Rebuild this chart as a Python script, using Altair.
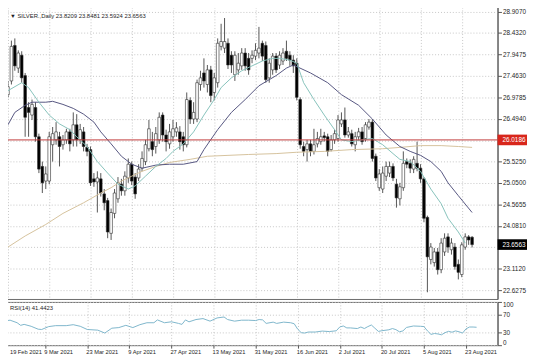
import altair as alt
import pandas as pd

# ---------------- data ----------------
opens = [27.04, 27.35, 28.15, 27.64, 27.93, 27.47, 26.75, 26.58, 26.75, 26.09,
         25.42, 25.09, 25.09, 25.91, 26.02, 26.09, 25.91, 26.02, 26.20, 26.02,
         26.36, 26.02, 26.20, 25.85, 25.80, 25.14, 25.07, 25.14, 24.80, 24.65,
         23.91, 24.36, 24.69, 25.02, 24.87, 25.16, 25.47, 25.18, 25.16, 25.38,
         25.53, 25.82, 25.98, 25.87, 26.02, 26.58, 26.13, 25.93, 26.09, 26.20,
         26.20, 26.09, 25.91, 26.91, 26.49, 26.49, 27.27, 27.53, 27.27, 27.60,
         27.09, 27.31, 28.13, 28.09, 28.20, 27.93, 27.49, 27.60, 27.69, 27.98,
         27.86, 27.86, 27.91, 27.98, 28.20, 28.15, 27.42, 27.60, 27.91, 27.71,
         27.80, 28.02, 27.93, 27.82, 27.75, 26.93, 25.87, 25.80, 25.93, 25.76,
         25.93, 25.98, 26.11, 26.09, 25.80, 26.02, 26.05, 26.38, 26.47, 26.13,
         26.16, 25.91, 26.09, 26.20, 26.05, 26.31, 26.42, 25.65, 24.94, 24.91,
         25.20, 25.27, 25.42, 25.02, 24.69, 24.94, 25.53, 25.49, 25.36, 25.49,
         25.38, 25.14, 24.27, 23.32, 23.25, 23.49, 23.09, 23.49, 23.83, 23.54,
         23.60, 23.21, 22.98, 23.60, 23.83, 23.8209]
highs = [27.35, 28.26, 28.31, 28.04, 28.02, 27.53, 26.87, 26.93, 26.87, 26.16,
         25.53, 25.42, 26.20, 26.31, 26.42, 26.20, 26.13, 26.27, 26.27, 26.64,
         26.60, 26.38, 26.31, 25.93, 25.87, 25.27, 25.31, 25.27, 24.91, 24.71,
         24.47, 24.91, 25.18, 25.14, 25.31, 25.60, 25.53, 25.27, 25.47, 25.76,
         26.02, 26.47, 26.20, 26.31, 26.64, 26.64, 26.25, 26.38, 26.47, 26.42,
         26.33, 26.20, 27.09, 26.98, 26.87, 27.38, 27.58, 27.86, 27.71, 27.69,
         27.53, 28.31, 28.64, 28.77, 28.31, 28.02, 28.02, 27.98, 28.09, 28.09,
         27.98, 28.04, 28.20, 28.57, 28.26, 28.24, 27.86, 27.98, 27.98, 28.02,
         28.09, 28.26, 28.02, 27.93, 27.86, 26.98, 25.98, 26.02, 26.02, 26.27,
         26.20, 26.27, 26.20, 26.16, 26.13, 26.25, 26.58, 26.64, 26.75, 26.31,
         26.25, 26.20, 26.29, 26.31, 26.42, 26.49, 26.49, 25.71, 25.36, 25.42,
         25.53, 25.53, 25.49, 25.14, 25.05, 25.76, 25.60, 25.58, 25.65, 25.98,
         25.47, 25.18, 24.31, 23.69, 23.58, 23.58, 23.80, 23.91, 23.91, 23.80,
         23.69, 23.32, 23.71, 23.91, 23.87, 23.8481]
lows = [26.98, 27.27, 27.58, 27.53, 27.31, 26.09, 26.09, 26.47, 25.98, 25.27,
        24.82, 24.91, 25.02, 25.53, 25.91, 25.42, 25.80, 25.93, 25.76, 25.87,
        25.87, 25.93, 25.76, 25.65, 24.98, 24.96, 24.38, 24.74, 24.43, 23.80,
        23.76, 24.25, 24.60, 24.76, 24.76, 25.05, 25.00, 24.69, 25.09, 25.31,
        25.45, 25.76, 25.65, 25.71, 25.93, 25.98, 25.76, 25.82, 25.98, 26.09,
        25.80, 25.76, 25.85, 26.38, 26.38, 26.42, 27.13, 27.20, 27.09, 26.87,
        26.91, 27.20, 28.04, 27.98, 27.62, 27.53, 27.35, 27.49, 27.60, 27.58,
        27.49, 27.75, 27.82, 27.86, 27.80, 27.31, 27.31, 27.49, 27.53, 27.62,
        27.71, 27.80, 27.69, 27.53, 26.91, 25.82, 25.65, 25.53, 25.65, 25.69,
        25.85, 25.91, 25.98, 25.65, 25.76, 25.93, 25.98, 26.31, 26.07, 26.07,
        25.87, 25.76, 26.02, 25.91, 25.98, 26.25, 25.53, 25.09, 24.87, 24.82,
        25.09, 25.18, 25.09, 24.49, 24.54, 24.87, 25.38, 25.27, 25.27, 25.31,
        25.05, 24.16, 22.58, 23.21, 23.16, 22.98, 23.01, 23.40, 23.47, 23.43,
        23.09, 22.87, 22.92, 23.54, 23.65, 23.5924]
closes = [27.22, 28.13, 27.69, 27.98, 27.42, 26.53, 26.64, 26.82, 26.09, 25.36,
          25.05, 25.25, 26.09, 26.16, 26.20, 25.87, 26.02, 26.20, 25.93, 26.36,
          26.02, 26.25, 25.87, 25.76, 25.05, 25.07, 25.16, 24.82, 24.60, 23.94,
          24.38, 24.82, 25.05, 24.87, 25.20, 25.47, 25.09, 24.80, 25.36, 25.60,
          25.91, 26.27, 25.80, 26.16, 26.53, 26.13, 25.98, 26.20, 26.27, 26.29,
          25.98, 25.91, 26.93, 26.49, 26.64, 27.31, 27.42, 27.35, 27.60, 27.02,
          27.42, 28.20, 28.24, 28.24, 27.71, 27.71, 27.93, 27.75, 27.98, 27.69,
          27.60, 27.93, 28.04, 28.09, 27.91, 27.38, 27.75, 27.91, 27.60, 27.93,
          27.98, 27.86, 27.82, 27.69, 26.98, 25.91, 25.76, 25.93, 25.76, 25.91,
          26.05, 26.09, 26.07, 25.76, 26.02, 26.16, 26.47, 26.47, 26.13, 26.20,
          25.93, 26.09, 26.20, 25.98, 26.36, 26.42, 25.60, 25.16, 25.25, 25.27,
          25.42, 25.42, 25.16, 24.71, 24.96, 25.49, 25.47, 25.38, 25.58, 25.38,
          25.14, 24.25, 23.38, 23.60, 23.49, 23.09, 23.69, 23.80, 23.60, 23.69,
          23.16, 23.03, 23.65, 23.83, 23.76, 23.6563]

fast_ma_bar = [0, 4, 6, 9, 12, 15, 18, 20, 23, 26, 29, 32, 35, 37, 40, 43, 46, 48, 51, 54,
               57, 60, 62, 65, 68, 71, 74, 77, 79, 82, 84, 86, 89, 92, 95, 97, 100, 103, 106, 109,
               112, 114, 117, 120, 123, 126, 128, 131, 133]
fast_ma = [27.13, 27.31, 27.20, 26.87, 26.58, 26.38, 26.25, 26.09, 25.87, 25.53,
           25.27, 25.02, 24.91, 24.98, 25.20, 25.42, 25.60, 25.76, 25.93, 26.20,
           26.58, 26.93, 27.20, 27.42, 27.58, 27.69, 27.80, 27.86, 27.86, 27.82,
           27.75, 27.31, 26.93, 26.58, 26.25, 26.02, 25.98, 26.02, 26.05, 25.91,
           25.71, 25.58, 25.53, 25.31, 24.91, 24.58, 24.25, 23.94, 23.69]

slow_ma_bar = [0, 2, 5, 7, 11, 13, 16, 19, 22, 25, 27, 30, 33, 36, 39, 43, 47, 51, 55, 57,
               61, 65, 69, 73, 78, 81, 83, 88, 93, 97, 102, 106, 110, 114, 117, 120, 123, 126, 128, 131,
               135]
slow_ma = [26.36, 26.64, 26.80, 26.87, 26.87, 26.89, 26.82, 26.73, 26.60, 26.42,
           26.20, 25.93, 25.65, 25.47, 25.38, 25.45, 25.47, 25.47, 25.53, 25.80,
           26.25, 26.64, 26.93, 27.24, 27.47, 27.64, 27.71, 27.53, 27.31, 27.04,
           26.80, 26.49, 26.13, 25.87, 25.76, 25.67, 25.53, 25.31, 25.05, 24.76,
           24.38]

long_ma_bar = [0, 5, 11, 16, 22, 27, 30, 33, 36, 39, 43, 47, 53, 58, 64, 70, 78, 84, 92, 100,
               109, 114, 120, 126, 131, 135]
long_ma = [23.60, 23.85, 24.11, 24.36, 24.60, 24.82, 24.94, 25.09, 25.20, 25.31,
           25.42, 25.51, 25.58, 25.65, 25.67, 25.69, 25.71, 25.74, 25.76, 25.80,
           25.82, 25.85, 25.89, 25.89, 25.87, 25.85]

rsi_bar = [0, 2, 4, 5, 6, 8, 10, 11, 13, 15, 18, 20, 22, 24, 27, 29, 31, 33, 35, 37,
           39, 41, 43, 44, 46, 48, 50, 51, 52, 53, 55, 57, 59, 61, 63, 64, 66, 68, 70, 72,
           73, 74, 75, 77, 78, 80, 82, 83, 84, 85, 86, 87, 89, 91, 93, 95, 96, 97, 98, 99,
           101, 102, 103, 104, 105, 106, 107, 108, 110, 111, 112, 113, 114, 115, 117, 119, 120, 121, 122, 123,
           124, 125, 126, 127, 128, 129, 130, 131, 132, 133, 134, 135]
rsi_val = [55.6, 57.8, 51.9, 45.9, 48.1, 43.7, 37.0, 36.3, 43.0, 45.2,
           45.2, 47.4, 43.7, 36.3, 34.8, 28.1, 39.3, 40.7, 45.9, 40.7,
           47.4, 51.9, 51.9, 58.5, 51.9, 54.1, 50.4, 48.1, 58.5, 54.0,
           59.3, 61.5, 55.6, 63.0, 65.2, 59.3, 55.6, 57.8, 57.8, 57.0,
           59.3, 58.5, 50.4, 53.3, 50.4, 53.3, 51.9, 49.6, 37.0, 29.0,
           28.1, 30.4, 30.4, 32.6, 31.5, 33.3, 42.2, 44.4, 40.0, 40.0,
           38.5, 42.0, 38.5, 43.0, 46.7, 39.3, 31.9, 33.5, 35.6, 38.5,
           36.0, 31.0, 33.0, 41.0, 44.4, 43.7, 43.0, 33.0, 25.0, 27.0,
           26.0, 24.0, 29.0, 32.0, 30.0, 33.0, 31.0, 28.0, 38.0, 42.0,
           42.0, 41.44]

label_bars = [0, 12, 24, 36, 48, 60, 72, 84, 96, 108, 120, 132]
date_labels = ["19 Feb 2021", "9 Mar 2021", "23 Mar 2021", "9 Apr 2021", "27 Apr 2021",
               "13 May 2021", "31 May 2021", "16 Jun 2021", "2 Jul 2021", "20 Jul 2021",
               "5 Aug 2021", "23 Aug 2021"]
price_ticks = [28.9070, 28.4320, 27.9475, 27.4630, 26.9785, 26.4940, 26.0095, 25.5250,
               25.0500, 24.5655, 24.0810, 23.5965, 23.1120, 22.6275]
rsi_ticks = [0, 30, 70, 100]
level_price = 26.0186
last_price = 23.6563
header = "\u25bc SILVER.,Daily  23.8209 23.8481 23.5924 23.6563"
rsi_header = "RSI(14) 41.4423"

# ---------------- chart ----------------
FONT = "Liberation Sans"
GRID = "#c6c6c6"
TXT = "#1e1e1e"
AX = "#555555"
W = 505

candles = pd.DataFrame({"bar": list(range(len(closes))), "open": opens, "high": highs,
                        "low": lows, "close": closes})

xs = alt.Scale(domain=[-0.56, 140.97], nice=False, zero=False)
ys = alt.Scale(domain=[22.428, 29.0845], nice=False, zero=False)
rs = alt.Scale(domain=[0, 100], nice=False, zero=False)

# tick labels hidden under the price tags are left blank (the tags cover them)
hidden_expr = ("abs(datum.value - 26.0095) < 0.001 || abs(datum.value - 23.5965) < 0.001"
               " ? '' : format(datum.value, '.4f')")

# identical axis objects in every layer so that they merge
x_axis_main = alt.Axis(values=label_bars, grid=True, labels=False, ticks=False,
                       domain=False, title=None, gridDash=[1, 2], gridColor=GRID)
y_axis_main = alt.Axis(orient="right", values=price_ticks, labelExpr=hidden_expr, grid=True,
                       gridDash=[1, 2], gridColor=GRID, title=None, tickSize=4,
                       tickColor=AX, domainColor=AX, labelPadding=1,
                       labelFontSize=6.5, labelColor=TXT, labelFont=FONT)
x_axis_rsi = alt.Axis(values=label_bars, grid=True, labels=False, ticks=True, tickSize=3,
                      domain=False, title=None, gridDash=[1, 2], gridColor=GRID,
                      tickColor=AX)
y_axis_rsi = alt.Axis(orient="right", values=rsi_ticks, grid=True, gridDash=[1, 2],
                      gridColor=GRID, labelFlush=True, title=None, tickSize=4,
                      tickColor=AX, domainColor=AX, labelPadding=1,
                      labelFontSize=6.5, labelColor=TXT, labelFont=FONT)


def xm():
    return alt.X("bar:Q", scale=xs, axis=x_axis_main)


def ym(field):
    return alt.Y(field, scale=ys, axis=y_axis_main)


wicks = alt.Chart(candles).mark_rule(color="#2a2a2a", strokeWidth=0.8).encode(
    x=xm(), y=ym("low:Q"), y2="high:Q")
bodies = alt.Chart(candles).mark_bar(size=2.7, stroke="#2a2a2a", strokeWidth=0.6).encode(
    x=xm(), y=ym("open:Q"), y2="close:Q",
    fill=alt.condition("datum.close >= datum.open", alt.value("#ffffff"), alt.value("#000000")),
)


def ma_line(b, v, color):
    df = pd.DataFrame({"bar": b, "price": v})
    return alt.Chart(df).mark_line(color=color, strokeWidth=1).encode(
        x=xm(), y=ym("price:Q"))


long_line = ma_line(long_ma_bar, long_ma, "#d5c29c")
slow_line = ma_line(slow_ma_bar, slow_ma, "#55557f")
fast_line = ma_line(fast_ma_bar, fast_ma, "#86c2bb")

level = alt.Chart(pd.DataFrame({"price": [level_price]})).mark_rule(
    color="#c23b3b", strokeWidth=1).encode(y=ym("price:Q"))

tags = pd.DataFrame({"price": [level_price, last_price], "bg": ["#d8261b", "#000000"]})
tag_box = alt.Chart(tags).mark_point(shape="M-1,-0.36H1V0.36H-1Z", size=900, filled=True,
                                     opacity=1, strokeWidth=0).encode(
    x=alt.value(520), y=ym("price:Q"), fill=alt.Fill("bg:N", scale=None))
tag_text = alt.Chart(tags).mark_text(align="left", baseline="middle", fontSize=6.5, font=FONT,
                                     color="#ffffff").encode(
    x=alt.value(510), y=ym("price:Q"), text=alt.Text("price:Q", format=".4f"))

title = alt.Chart(pd.DataFrame({"t": [header]})).mark_text(
    align="left", baseline="middle", fontSize=6, font=FONT, color=TXT).encode(
    x=alt.value(9), y=alt.value(12), text="t:N")

main = alt.layer(wicks, bodies, long_line, slow_line, fast_line, level, tag_box, tag_text,
                 title).properties(width=W, height=300)


def xr():
    return alt.X("bar:Q", scale=xs, axis=x_axis_rsi)


rsi_df = pd.DataFrame({"bar": rsi_bar, "rsi": rsi_val})
rsi_line = alt.Chart(rsi_df).mark_line(color="#7db6cb", strokeWidth=1).encode(
    x=xr(), y=alt.Y("rsi:Q", scale=rs, axis=y_axis_rsi))
rsi_title = alt.Chart(pd.DataFrame({"t": [rsi_header]})).mark_text(
    align="left", baseline="middle", fontSize=6, font=FONT, color=TXT).encode(
    x=alt.value(9), y=alt.value(6), text="t:N")

dl = pd.DataFrame({"bar": label_bars, "label": date_labels})
dates_first = alt.Chart(dl.iloc[:1]).mark_text(
    align="left", baseline="middle", fontSize=5.8, font=FONT, color=TXT, dx=7).encode(
    x=xr(), y=alt.value(50.5), text="label:N")
dates_rest = alt.Chart(dl.iloc[1:]).mark_text(
    align="left", baseline="middle", fontSize=5.8, font=FONT, color=TXT, dx=-1).encode(
    x=xr(), y=alt.value(50.5), text="label:N")

rsi = alt.layer(rsi_line, rsi_title, dates_first, dates_rest).properties(width=W, height=44)

chart = alt.vconcat(main, rsi, spacing=1).properties(
    padding={"left": -8, "top": -8, "right": 0, "bottom": 0},
    background="#ffffff",
).configure_view(stroke="#6a6a6a", strokeWidth=1)

chart.save("out.html", embed_options={"renderer": "svg", "actions": False})
